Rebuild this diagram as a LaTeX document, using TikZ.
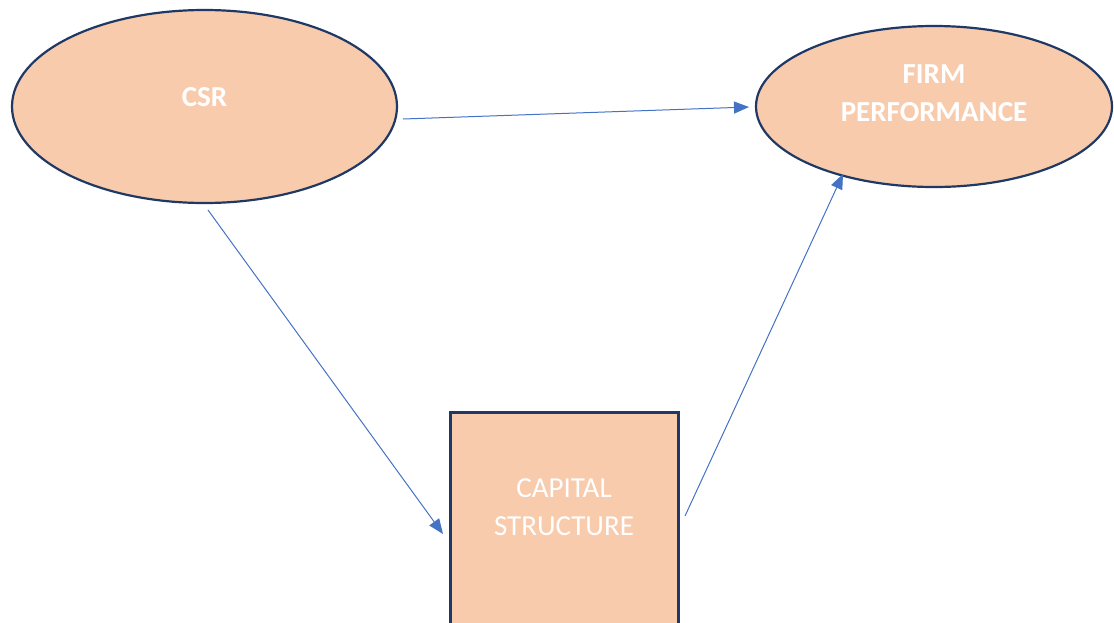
\documentclass[tikz,border=0pt]{standalone}
\usepackage{fontspec}
\setmainfont{Carlito}
\usetikzlibrary{arrows.meta,shapes.geometric}
\definecolor{fillc}{HTML}{F8CBAD}
\definecolor{edgec}{HTML}{1F3864}
\definecolor{arrc}{HTML}{4472C4}
\tikzset{
  oval/.style={ellipse, draw=edgec, line width=2.2pt, fill=fillc, inner sep=0pt, outer sep=0pt},
  boxshape/.style={rectangle, draw=edgec, line width=2.2pt, fill=fillc, inner sep=0pt, outer sep=0pt},
  boldtxt/.style={text=white, font=\fontsize{29}{38}\selectfont\bfseries, align=center},
  plaintxt/.style={text=white, font=\fontsize{29}{38}\selectfont, align=center},
  link/.style={draw=arrc, line width=1pt, -{Triangle[length=15pt,width=12pt]}}
}
\begin{document}
\begin{tikzpicture}[x=1pt,y=-1pt]
\useasboundingbox (0,0) rectangle (1114,622);
\clip (0,0) rectangle (1114,622);
% shapes
\node[oval, minimum width=385pt, minimum height=193pt] (csrshape) at (204.5,106.5) {};
\node[oval, minimum width=356pt, minimum height=161pt] (firmshape) at (934,106.5) {};
\node[boxshape, minimum width=228pt, minimum height=228pt, anchor=north west] (capshape) at (450.5,412.5) {};
% texts
\node[boldtxt] (csr) at (204.5,97) {CSR};
\node[boldtxt] (firm) at (934,93) {FIRM\\PERFORMANCE};
\node[plaintxt] (cap) at (564,507) {CAPITAL\\STRUCTURE};
% connector ends
\coordinate (s1) at (403,119);
\coordinate (e1) at (749,107);
\coordinate (s2) at (208,210);
\coordinate (e2) at (443,534);
\coordinate (s3) at (685,516);
\coordinate (e3) at (843,174);
\draw[link] (s1) -- (e1);
\draw[link] (s2) -- (e2);
\draw[link] (s3) -- (e3);
\end{tikzpicture}
\end{document}
